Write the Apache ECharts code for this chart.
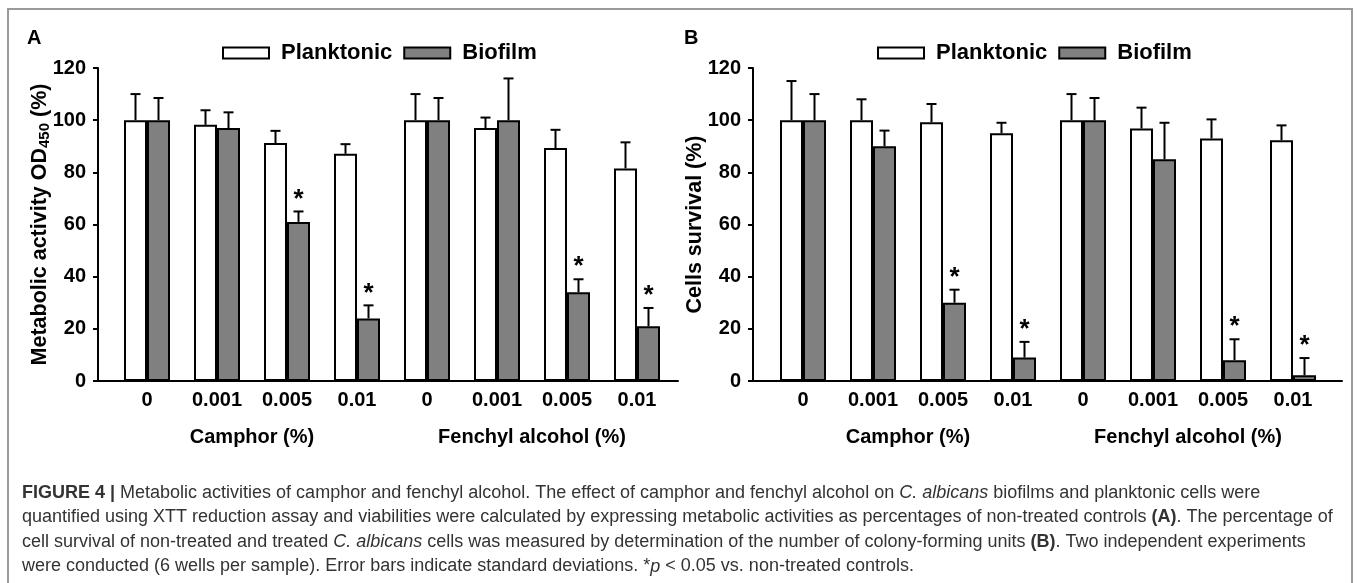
<!DOCTYPE html>
<html>
<head>
<meta charset="utf-8">
<script src="https://cdn.jsdelivr.net/npm/echarts@6/dist/echarts.min.js"></script>
<style>
  html, body { margin: 0; padding: 0; background: #ffffff; }
  #chart { width: 1357px; height: 583px; }
</style>
</head>
<body>
<div id="chart"></div>
<script>
// ---------------- DATA ----------------
const concentrations = ['0', '0.001', '0.005', '0.01', '0', '0.001', '0.005', '0.01'];
const treatments = ['Camphor (%)', 'Fenchyl alcohol (%)'];
const seriesNames = ['Planktonic', 'Biofilm'];
const yTicks = { min: 0, max: 120, interval: 20 };

// Panel A: metabolic activity OD450 (%)
const planktonicA    = [100, 98.2, 91.2, 87.1, 100, 97, 89.3, 81.5];
const planktonicAErr = [10, 5.6, 4.7, 3.7, 10, 4, 7, 10];
const biofilmA       = [100, 97, 61, 24, 100, 100, 34, 21];
const biofilmAErr    = [8.5, 6, 4, 5, 8.5, 16, 5, 7];
const biofilmASig    = [0, 0, 1, 1, 0, 0, 1, 1];

// Panel B: cells survival (%)
const planktonicB    = [100, 100, 99.2, 95, 100, 96.8, 93, 92.3];
const planktonicBErr = [15, 8, 7, 4, 10, 8, 7.3, 5.7];
const biofilmB       = [100, 90, 30, 9, 100, 85, 8, 2.2];
const biofilmBErr    = [10, 6, 5, 6, 8.5, 14, 8, 6.6];
const biofilmBSig    = [0, 0, 1, 1, 0, 0, 1, 1];
const noSig          = [0, 0, 0, 0, 0, 0, 0, 0];

// ---------------- STYLE / LAYOUT ----------------
const FONT = "'Liberation Sans', Arial, sans-serif";
const BAR_W = 23;
const GRAY = '#808080';
const NAME_SIZE = 21.5;

const chart = echarts.init(document.getElementById('chart'), null, { renderer: 'canvas' });

function errorSeries(name, values, errs, sig, side, xIdx, yIdx) {
  return {
    type: 'custom',
    name: name,
    xAxisIndex: xIdx,
    yAxisIndex: yIdx,
    z: 5,
    silent: true,
    legendHoverLink: false,
    data: values.map((v, i) => [i, v, v + errs[i], sig[i]]),
    encode: { x: 0, y: 2 },
    renderItem: function (params, api) {
      const i = api.value(0);
      const base = api.coord([i, api.value(1)]);
      const top = api.coord([i, api.value(2)]);
      const x = base[0] + side * BAR_W / 2;
      const children = [
        { type: 'line', shape: { x1: x, y1: base[1], x2: x, y2: top[1] },
          style: { stroke: '#000', lineWidth: 2 } },
        { type: 'line', shape: { x1: x - 5, y1: top[1], x2: x + 5, y2: top[1] },
          style: { stroke: '#000', lineWidth: 2 } }
      ];
      if (api.value(3)) {
        children.push({ type: 'text', x: x, y: top[1] - 12,
          style: { text: '*', font: 'bold 26px ' + FONT, fill: '#000',
                   align: 'center', verticalAlign: 'middle' } });
      }
      return { type: 'group', children: children };
    }
  };
}

function barSeries(name, values, color, xIdx, yIdx) {
  return {
    type: 'bar', name: name, xAxisIndex: xIdx, yAxisIndex: yIdx,
    data: values, barWidth: BAR_W, barGap: '0%',
    itemStyle: { color: color, borderColor: '#000', borderWidth: 2 },
    emphasis: { disabled: true }
  };
}

const tickFont = { fontFamily: FONT, fontWeight: 'bold', fontSize: 20, color: '#000' };

function frameX(grid) {
  return { type: 'value', gridIndex: grid, min: 0, max: 1,
    axisLine: { show: true, onZero: false, lineStyle: { color: '#000', width: 2 } },
    axisTick: { show: false }, axisLabel: { show: false }, splitLine: { show: false } };
}
function catX(grid) {
  return { type: 'category', gridIndex: grid, data: concentrations,
    axisLine: { show: false }, axisTick: { show: false },
    axisLabel: Object.assign({ margin: 9, interval: 0 }, tickFont) };
}
function treatX(grid) {
  return { type: 'category', gridIndex: grid, data: treatments, position: 'bottom', offset: 38,
    axisLine: { show: false }, axisTick: { show: false },
    axisLabel: Object.assign({ margin: 8, interval: 0 }, tickFont) };
}
function frameY(grid, name, gap) {
  return { type: 'value', gridIndex: grid, min: yTicks.min, max: yTicks.max, interval: yTicks.interval,
    axisLine: { show: true, lineStyle: { color: '#000', width: 2 } },
    axisTick: { show: true, inside: false, length: 5, lineStyle: { color: '#000', width: 2 } },
    axisLabel: Object.assign({ margin: 12 }, tickFont),
    splitLine: { show: false },
    name: name, nameLocation: 'middle', nameGap: gap, nameRotate: 90, nameMoveOverlap: false,
    nameTextStyle: { fontFamily: FONT, fontWeight: 'bold', fontSize: NAME_SIZE, color: '#000',
      rich: {
        m: { fontFamily: FONT, fontWeight: 'bold', fontSize: NAME_SIZE, color: '#000', lineHeight: 24 },
        s: { fontFamily: FONT, fontWeight: 'bold', fontSize: 15, color: '#000', lineHeight: 24, verticalAlign: 'bottom', padding: [4, 0, 0, 0] }
      } }
  };
}
function hiddenY(grid) {
  return { type: 'value', gridIndex: grid, min: yTicks.min, max: yTicks.max, interval: yTicks.interval, show: false,
           splitLine: { show: false } };
}

function legendAt(left) {
  return { data: seriesNames, left: left, top: 42, padding: 0, itemGap: 11,
    itemWidth: 46, itemHeight: 11, icon: 'rect',
    itemStyle: { borderColor: '#000', borderWidth: 2 },
    textStyle: { fontFamily: FONT, fontWeight: 'bold', fontSize: 22, color: '#000', padding: [0, 0, 0, 7] },
    selectedMode: false };
}

const CAP_SIZE = 18;
const captionFont = CAP_SIZE + 'px ' + FONT;
const capRich = {
  b: { fontFamily: FONT, fontWeight: 'bold', fontSize: CAP_SIZE, fill: '#333' },
  i: { fontFamily: FONT, fontStyle: 'italic', fontSize: CAP_SIZE, fill: '#333' }
};
const captionLines = [
  '{b|FIGURE 4 |} Metabolic activities of camphor and fenchyl alcohol. The effect of camphor and fenchyl alcohol on {i|C. albicans} biofilms and planktonic cells were',
  'quantified using XTT reduction assay and viabilities were calculated by expressing metabolic activities as percentages of non-treated controls {b|(A)}. The percentage of',
  'cell survival of non-treated and treated {i|C. albicans} cells was measured by determination of the number of colony-forming units {b|(B)}. Two independent experiments',
  'were conducted (6 wells per sample). Error bars indicate standard deviations. *{i|p} < 0.05 vs. non-treated controls.'
];

const graphics = [
  { type: 'rect', shape: { x: 8, y: 9, width: 1344, height: 580 },
    style: { fill: 'none', stroke: '#9a9a9a', lineWidth: 2 }, silent: true, z: -1 },
  { type: 'text', x: 27, y: 38, style: { text: 'A', font: 'bold 20px ' + FONT, fill: '#000', verticalAlign: 'middle' } },
  { type: 'text', x: 684, y: 38, style: { text: 'B', font: 'bold 20px ' + FONT, fill: '#000', verticalAlign: 'middle' } }
];
captionLines.forEach((t, k) => {
  graphics.push({ type: 'text', x: 22, y: 493 + k * 24.5,
    style: { text: t, rich: capRich, font: captionFont, fill: '#333', verticalAlign: 'middle' } });
});

const option = {
  backgroundColor: '#ffffff',
  animation: false,
  grid: [
    { left: 98, top: 68, width: 580, height: 313 },
    { left: 112, top: 68, width: 560, height: 313 },
    { left: 753, top: 68, width: 589, height: 313 },
    { left: 768, top: 68, width: 560, height: 313 }
  ],
  legend: [legendAt(222), legendAt(877)],
  xAxis: [frameX(0), catX(1), treatX(1), frameX(2), catX(3), treatX(3)],
  yAxis: [
    frameY(0, '{m|Metabolic activity OD}{s|450}{m| (%)}', 46),
    hiddenY(1),
    frameY(2, 'Cells survival (%)', 47),
    hiddenY(3)
  ],
  series: [
    barSeries('Planktonic', planktonicA, '#ffffff', 1, 1),
    barSeries('Biofilm', biofilmA, GRAY, 1, 1),
    errorSeries('Planktonic', planktonicA, planktonicAErr, noSig, -1, 1, 1),
    errorSeries('Biofilm', biofilmA, biofilmAErr, biofilmASig, 1, 1, 1),
    barSeries('Planktonic', planktonicB, '#ffffff', 4, 3),
    barSeries('Biofilm', biofilmB, GRAY, 4, 3),
    errorSeries('Planktonic', planktonicB, planktonicBErr, noSig, -1, 4, 3),
    errorSeries('Biofilm', biofilmB, biofilmBErr, biofilmBSig, 1, 4, 3)
  ],
  graphic: graphics
};
chart.setOption(option);
</script>
</body>
</html>
